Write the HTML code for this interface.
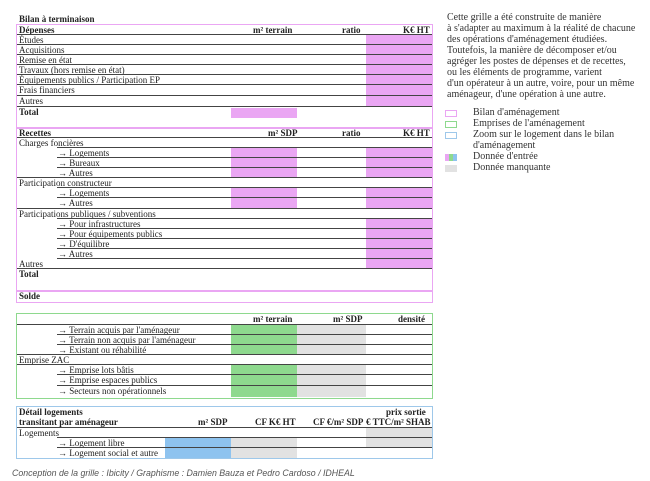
<!DOCTYPE html><html><head><meta charset="utf-8"><style>
body{margin:0;width:650px;height:481px;background:#fff;position:relative;overflow:hidden;font-family:"Liberation Serif",serif;color:#222}
.t{position:absolute;font-size:9px;line-height:10px;white-space:nowrap}
.b{font-weight:bold}
.l{position:absolute;height:1px;background:#444}
.f{position:absolute}
.box{position:absolute;box-sizing:border-box}
.lg{position:absolute;font-size:10px;line-height:11px;white-space:nowrap;color:#333}
</style></head><body>
<div class="t b" style="left:19px;top:14px">Bilan à terminaison</div>
<div class="f" style="left:366px;top:35px;width:66px;height:71px;background:#eaa6f3"></div>
<div class="f" style="left:231px;top:108px;width:66px;height:10px;background:#eaa6f3"></div>
<div class="f" style="left:231px;top:148px;width:66px;height:30px;background:#eaa6f3"></div>
<div class="f" style="left:366px;top:148px;width:66px;height:30px;background:#eaa6f3"></div>
<div class="f" style="left:231px;top:188px;width:66px;height:20px;background:#eaa6f3"></div>
<div class="f" style="left:366px;top:188px;width:66px;height:20px;background:#eaa6f3"></div>
<div class="f" style="left:366px;top:219px;width:66px;height:50px;background:#eaa6f3"></div>
<div class="box" style="left:16px;top:24px;width:417px;height:279px;border:1.5px solid #eaa6f3"></div>
<div class="f" style="left:16px;top:127px;width:417px;height:1.5px;background:#eaa6f3"></div>
<div class="f" style="left:16px;top:290px;width:417px;height:1.5px;background:#eaa6f3"></div>
<div class="t b" style="left:19px;top:25px">Dépenses</div>
<div class="t b" style="left:253px;top:25px">m² terrain</div>
<div class="t b" style="left:342px;top:25px">ratio</div>
<div class="t b" style="left:403px;top:25px">K€ HT</div>
<div class="t" style="left:19px;top:35px">Études</div>
<div class="t" style="left:19px;top:45px">Acquisitions</div>
<div class="t" style="left:19px;top:55px">Remise en état</div>
<div class="t" style="left:19px;top:65px">Travaux (hors remise en état)</div>
<div class="t" style="left:19px;top:75px">Équipements publics / Participation EP</div>
<div class="t" style="left:19px;top:85px">Frais financiers</div>
<div class="t" style="left:19px;top:96px">Autres</div>
<div class="t b" style="left:19px;top:107px">Total</div>
<div class="l" style="left:17px;top:34px;width:415px"></div>
<div class="l" style="left:17px;top:44px;width:415px"></div>
<div class="l" style="left:17px;top:54px;width:415px"></div>
<div class="l" style="left:17px;top:64px;width:415px"></div>
<div class="l" style="left:17px;top:74px;width:415px"></div>
<div class="l" style="left:17px;top:84px;width:415px"></div>
<div class="l" style="left:17px;top:95px;width:415px"></div>
<div class="l" style="left:17px;top:106px;width:415px"></div>
<div class="t b" style="left:19px;top:128px">Recettes</div>
<div class="t b" style="left:268px;top:128px">m² SDP</div>
<div class="t b" style="left:342px;top:128px">ratio</div>
<div class="t b" style="left:403px;top:128px">K€ HT</div>
<div class="t" style="left:19px;top:138px">Charges foncières</div>
<div class="t" style="left:58px;top:148px">→ Logements</div>
<div class="t" style="left:58px;top:158px">→ Bureaux</div>
<div class="t" style="left:58px;top:168px">→ Autres</div>
<div class="t" style="left:19px;top:178px">Participation constructeur</div>
<div class="t" style="left:58px;top:188px">→ Logements</div>
<div class="t" style="left:58px;top:198px">→ Autres</div>
<div class="t" style="left:19px;top:209px">Participations publiques / subventions</div>
<div class="t" style="left:58px;top:219px">→ Pour infrastructures</div>
<div class="t" style="left:58px;top:229px">→ Pour équipements publics</div>
<div class="t" style="left:58px;top:239px">→ D'équilibre</div>
<div class="t" style="left:58px;top:249px">→ Autres</div>
<div class="t" style="left:19px;top:259px">Autres</div>
<div class="t b" style="left:19px;top:269px">Total</div>
<div class="t b" style="left:19px;top:291px">Solde</div>
<div class="l" style="left:17px;top:137px;width:415px"></div>
<div class="l" style="left:57px;top:147px;width:375px"></div>
<div class="l" style="left:57px;top:157px;width:375px"></div>
<div class="l" style="left:57px;top:167px;width:375px"></div>
<div class="l" style="left:17px;top:177px;width:415px"></div>
<div class="l" style="left:57px;top:187px;width:375px"></div>
<div class="l" style="left:57px;top:197px;width:375px"></div>
<div class="l" style="left:17px;top:208px;width:415px"></div>
<div class="l" style="left:57px;top:218px;width:375px"></div>
<div class="l" style="left:57px;top:228px;width:375px"></div>
<div class="l" style="left:57px;top:238px;width:375px"></div>
<div class="l" style="left:57px;top:248px;width:375px"></div>
<div class="l" style="left:57px;top:258px;width:375px"></div>
<div class="l" style="left:17px;top:268px;width:415px"></div>
<div class="f" style="left:231px;top:325px;width:66px;height:30px;background:#8ed98e"></div>
<div class="f" style="left:297px;top:325px;width:69px;height:30px;background:#e2e2e2"></div>
<div class="f" style="left:231px;top:365px;width:66px;height:32px;background:#8ed98e"></div>
<div class="f" style="left:297px;top:365px;width:69px;height:32px;background:#e2e2e2"></div>
<div class="box" style="left:16px;top:313px;width:417px;height:86px;border:1.5px solid #8ed98e"></div>
<div class="t b" style="left:253px;top:314px">m² terrain</div>
<div class="t b" style="left:333px;top:314px">m² SDP</div>
<div class="t b" style="left:398px;top:314px">densité</div>
<div class="t" style="left:58px;top:325px">→ Terrain acquis par l'aménageur</div>
<div class="t" style="left:58px;top:335px">→ Terrain non acquis par l'aménageur</div>
<div class="t" style="left:58px;top:345px">→ Existant ou réhabilité</div>
<div class="t" style="left:19px;top:355px">Emprise ZAC</div>
<div class="t" style="left:58px;top:365px">→ Emprise lots bâtis</div>
<div class="t" style="left:58px;top:375px">→ Emprise espaces publics</div>
<div class="t" style="left:58px;top:386px">→ Secteurs non opérationnels</div>
<div class="l" style="left:17px;top:324px;width:415px"></div>
<div class="l" style="left:57px;top:334px;width:375px"></div>
<div class="l" style="left:57px;top:344px;width:375px"></div>
<div class="l" style="left:17px;top:354px;width:415px"></div>
<div class="l" style="left:17px;top:364px;width:415px"></div>
<div class="l" style="left:57px;top:374px;width:375px"></div>
<div class="l" style="left:57px;top:385px;width:375px"></div>
<div class="f" style="left:366px;top:428px;width:66px;height:20px;background:#e2e2e2"></div>
<div class="f" style="left:165px;top:438px;width:66px;height:20px;background:#8ec3ef"></div>
<div class="f" style="left:231px;top:438px;width:66px;height:20px;background:#e2e2e2"></div>
<div class="box" style="left:16px;top:406px;width:417px;height:53px;border:1.5px solid #9ec8ea"></div>
<div class="t b" style="left:19px;top:407px">Détail logements</div>
<div class="t b" style="left:19px;top:417px">transitant par aménageur</div>
<div class="t b" style="left:386px;top:407px">prix sortie</div>
<div class="t b" style="left:198px;top:417px">m² SDP</div>
<div class="t b" style="left:255px;top:417px">CF K€ HT</div>
<div class="t b" style="left:313px;top:417px">CF €/m² SDP</div>
<div class="t b" style="left:366px;top:417px">€ TTC/m² SHAB</div>
<div class="t" style="left:19px;top:428px">Logements</div>
<div class="t" style="left:58px;top:438px">→ Logement libre</div>
<div class="t" style="left:58px;top:448px">→ Logement social et autre</div>
<div class="l" style="left:17px;top:427px;width:415px"></div>
<div class="l" style="left:57px;top:437px;width:375px"></div>
<div class="l" style="left:57px;top:447px;width:375px"></div>
<div style="position:absolute;left:12px;top:468px;font:italic 8.8px 'Liberation Sans',sans-serif;color:#555;white-space:nowrap">Conception de la grille : Ibicity / Graphisme : Damien Bauza et Pedro Cardoso / IDHEAL</div>
<div class="lg" style="left:447px;top:12px">Cette grille a été construite de manière<br>à s'adapter au maximum à la réalité de chacune<br>des opérations d'aménagement étudiées.<br>Toutefois, la manière de décomposer et/ou<br>agréger les postes de dépenses et de recettes,<br>ou les éléments de programme, varient<br>d'un opérateur à un autre, voire, pour un même<br>aménageur, d'une opération à une autre.</div>
<div class="box" style="left:445px;top:110px;width:12px;height:7px;border:1px solid #eaa6f3"></div>
<div class="box" style="left:445px;top:121px;width:12px;height:7px;border:1px solid #8ed98e"></div>
<div class="box" style="left:445px;top:132px;width:12px;height:7px;border:1px solid #9ec8ea"></div>
<div class="f" style="left:445px;top:154px;width:12px;height:7px;background:linear-gradient(90deg,#eaa6f3 0 33%,#8ed98e 33% 66%,#8ec3ef 66%)"></div>
<div class="f" style="left:445px;top:165px;width:12px;height:7px;background:#e2e2e2"></div>
<div class="lg" style="left:473px;top:107px">Bilan d'aménagement<br>Emprises de l'aménagement<br>Zoom sur le logement dans le bilan<br>d'aménagement<br>Donnée d'entrée<br>Donnée manquante</div>
</body></html>
